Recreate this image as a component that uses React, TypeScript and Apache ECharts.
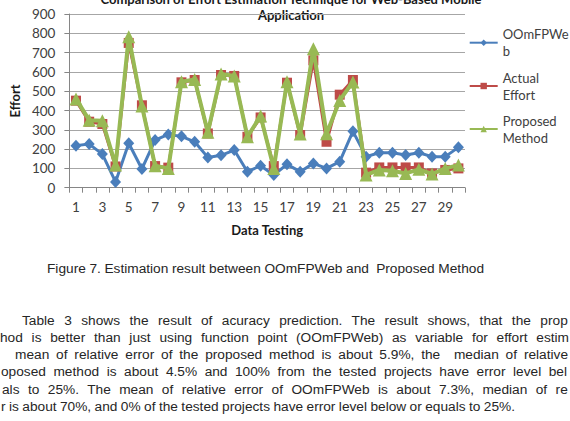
import React, { useEffect, useRef, useMemo } from 'react';
import * as echarts from 'echarts';

const categories = ['1', '2', '3', '4', '5', '6', '7', '8', '9', '10', '11', '12', '13', '14', '15', '16', '17', '18', '19', '20', '21', '22', '23', '24', '25', '26', '27', '28', '29', '30'];
const oomfpweb = [218, 226, 174, 30, 230, 97, 247, 276, 266, 238, 157, 168, 195, 83, 114, 66, 121, 83, 126, 100, 135, 292, 161, 181, 181, 169, 181, 161, 161, 209];
const actualEffort = [451, 342, 330, 110, 750, 427, 112, 104, 546, 558, 281, 584, 579, 264, 364, 112, 544, 273, 660, 238, 482, 558, 78, 105, 105, 105, 105, 74, 92, 100];
const proposedMethod = [460, 350, 347, 117, 782, 423, 114, 100, 549, 561, 287, 589, 579, 264, 372, 100, 549, 278, 720, 280, 452, 548, 66, 92, 88, 74, 95, 71, 100, 117];

const seriesNames = ['OOmFPWeb', 'Actual Effort', 'Proposed Method'];
const legendLabels = ['OOmFPWe\nb', 'Actual\nEffort', 'Proposed\nMethod'];
const titleLines = ['Comparison of Effort Estimation Technique for Web-Based Mobile', 'Application'];
const xAxisName = 'Data Testing';
const yAxisName = 'Effort';
const yMin = 0;
const yMax = 900;
const yStep = 100;

const captionText = 'Figure 7. Estimation result between OOmFPWeb and  Proposed Method';
const paragraphLines = [
  'Table 3 shows the result of acuracy prediction. The result shows, that the prop',
  'hod is better than just using function point (OOmFPWeb) as variable for effort estim',
  'mean of relative error of the proposed method is about 5.9%, the  median of relative',
  'oposed method is about 4.5% and 100% from the tested projects have error level bel',
  'als to 25%. The mean of relative error of OOmFPWeb is about 7.3%, median of re',
  'r is about 70%, and 0% of the tested projects have error level below or equals to 25%.',
];

const colors = ['#4A7EBB', '#BE4B48', '#98B954'];
const symbols = ['diamond', 'rect', 'triangle'];

const BODY_FONT = '"Liberation Sans", Arial, sans-serif';
const BODY_SIZE = 13.7;
// layout for the text lines: [left, right end, center y]
const lineLayout: Array<[number, number, number]> = [
  [22, 568, 320.7],
  [0, 569, 337.8],
  [15, 568, 354.8],
  [1, 567, 371.9],
  [2, 568, 389],
  [1, 515, 406],
];

function measure(text: string, px: number): number {
  const c = document.createElement('canvas');
  const ctx = c.getContext('2d');
  if (!ctx) return 0;
  ctx.font = `${px}px ${BODY_FONT}`;
  return ctx.measureText(text).width;
}

function TextLine({ text, left, right, cy }: { text: string; left: number; right: number; cy: number }) {
  const ws = useMemo(() => {
    const w = measure(text, BODY_SIZE);
    const spaces = (text.match(/ /g) || []).length;
    return spaces ? (right - left - w) / spaces : 0;
  }, [text, left, right]);
  return (
    <div
      style={{
        position: 'absolute',
        left,
        top: cy - 8.5,
        height: 17,
        lineHeight: '17px',
        fontFamily: BODY_FONT,
        fontSize: BODY_SIZE,
        color: '#262626',
        whiteSpace: 'pre',
        wordSpacing: ws,
      }}
    >
      {text}
    </div>
  );
}

function Chart() {
  const ref = useRef<HTMLDivElement>(null);
  useEffect(() => {
    if (!ref.current) return;
    const chart = echarts.init(ref.current, undefined, { renderer: 'svg' });
    const dataSets = [oomfpweb, actualEffort, proposedMethod];
    const symbolSizes: any[] = [[11, 12], 10, 13];
    const lineWidths = [3, 3, 4];
    const iconY = [42.7, 86, 129];
    const titleStyle = {
      font: 'bold 13px Lato, sans-serif',
      fill: '#1a1a1a',
      textAlign: 'center',
      textVerticalAlign: 'middle',
      align: 'center',
      verticalAlign: 'middle',
    };
    chart.setOption({
      animation: false,
      textStyle: { fontFamily: 'Lato, sans-serif' },
      grid: { left: 60, right: 105, top: 14, bottom: 62.3 },
      graphic: [
        { type: 'text', x: 291, y: -1, style: { text: titleLines[0], ...titleStyle } },
        { type: 'text', x: 291, y: 15, style: { text: titleLines[1], ...titleStyle } },
      ],
      xAxis: {
        type: 'category',
        data: categories,
        boundaryGap: true,
        axisLine: { lineStyle: { color: '#868686', width: 1 } },
        axisTick: { show: true, interval: 0, length: 5, lineStyle: { color: '#868686' } },
        axisLabel: { interval: 1, fontSize: 13.5, color: '#404040', margin: 12 },
        name: xAxisName,
        nameLocation: 'middle',
        nameGap: 36,
        nameTextStyle: { fontWeight: 'bold', fontSize: 13, color: '#1a1a1a' },
      },
      yAxis: {
        type: 'value',
        min: yMin,
        max: yMax,
        interval: yStep,
        axisLine: { show: true, lineStyle: { color: '#868686' } },
        axisTick: { show: true, length: 5, lineStyle: { color: '#868686' } },
        axisLabel: { fontSize: 13.5, color: '#404040', margin: 14 },
        splitLine: { lineStyle: { color: '#a6a6a6' } },
        name: yAxisName,
        nameLocation: 'middle',
        nameRotate: 90,
        nameGap: 38,
        nameTextStyle: { fontWeight: 'bold', fontSize: 13, color: '#1a1a1a' },
      },
      legend: seriesNames.map((n, i) => ({
        data: [n],
        left: 468.7,
        top: iconY[i] - 25.5,
        orient: 'vertical',
        padding: 0,
        itemWidth: 28,
        itemHeight: 8,
        formatter: () => legendLabels[i],
        textStyle: { fontSize: 13, color: '#404040', lineHeight: 17, padding: [17, 0, 0, 0] },
      })),
      series: seriesNames.map((n, i) => ({
        name: n,
        type: 'line',
        data: dataSets[i],
        symbol: symbols[i],
        symbolSize: symbolSizes[i],
        showAllSymbol: true,
        lineStyle: { color: colors[i], width: lineWidths[i] },
        itemStyle: { color: colors[i] },
        z: 2 + i,
      })),
    });
    return () => chart.dispose();
  }, []);
  return <div ref={ref} style={{ position: 'absolute', left: 0, top: 0, width: 570, height: 250 }} />;
}

export default function App() {
  return (
    <div style={{ position: 'absolute', left: 0, top: 0, width: 570, height: 421, overflow: 'hidden', background: '#fff' }}>
      <Chart />
      <TextLine text={captionText} left={47} right={484} cy={268} />
      {paragraphLines.map((t, i) => (
        <TextLine key={i} text={t} left={lineLayout[i][0]} right={lineLayout[i][1]} cy={lineLayout[i][2]} />
      ))}
    </div>
  );
}
